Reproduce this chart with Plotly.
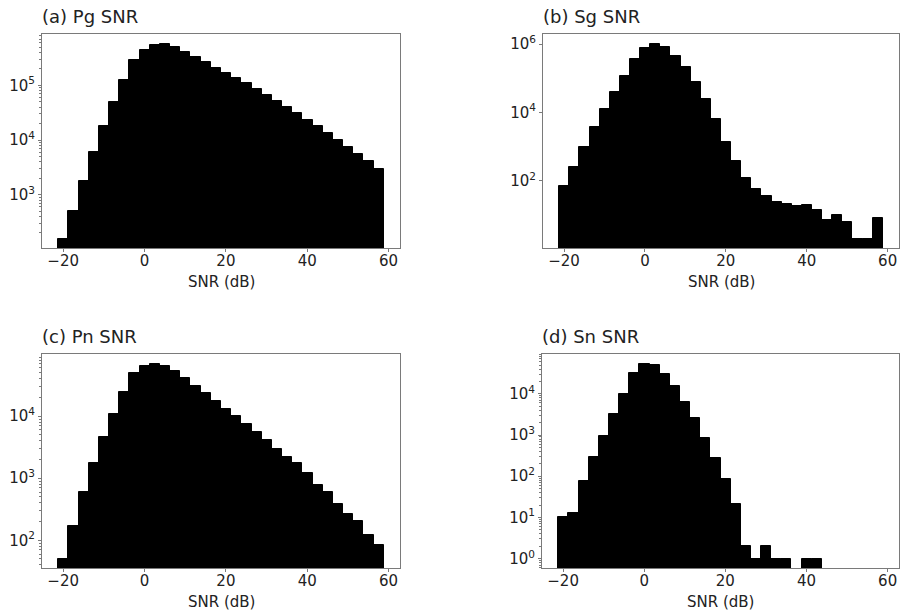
import plotly.graph_objects as go

# Histogram bins shared by all four panels (SNR in dB)
bin_start = -21.2
bin_width = 2.5
n_bins = 32

# Counts per bin for each phase (None = empty bin)
pg_counts = [157, 500, 1750, 6000, 17800, 48900, 125000, 290000, 449000, 540000,
             562000, 495000, 408000, 330000, 267000, 211000, 171000, 138000, 109000, 84600,
             67500, 52500, 40200, 30800, 23600, 18300, 13200, 10100, 7450, 5470,
             4070, 2950]
sg_counts = [70, 258, 973, 3670, 12700, 39000, 118000, 371000, 746000, 978000,
             798000, 455000, 207000, 76700, 24300, 6440, 1390, 378, 122, 58,
             35, 23, 21, 18, 19, 14, 7, 10, 6, 2,
             2, 8]
pn_counts = [50, 171, 605, 1740, 4570, 10900, 24200, 50200, 64400, 69400,
             63600, 52700, 40600, 30500, 23300, 17500, 13300, 10000, 7430, 5510,
             4090, 3000, 2230, 1740, 1230, 775, 605, 382, 270, 203,
             122, 83]
sn_counts = [10, 13, 75, 287, 968, 3200, 9800, 31200, 52700, 49000,
             30700, 15100, 6500, 2600, 850, 277, 85, 21, 2, 1,
             2, 1, 1, None, 1, 1, None, None, None, None,
             None, None]

titles = ["(a) Pg SNR", "(b) Sg SNR", "(c) Pn SNR", "(d) Sn SNR"]
xlabel = "SNR (dB)"
x_ticks = [-20, 0, 20, 40, 60]
y_major_exps = [[3, 4, 5], [2, 4, 6], [2, 3, 4], [0, 1, 2, 3, 4]]

centers = [bin_start + bin_width * (i + 0.5) for i in range(n_bins)]
all_counts = [pg_counts, sg_counts, pn_counts, sn_counts]

W, H = 902, 614
# panel boxes in pixels: (left, right, top, bottom)
boxes = [(42, 400, 34, 248), (543, 899, 34, 248),
         (42, 400, 354, 568), (542, 899, 354, 568)]
# log10 y-ranges
y_ranges = [[2.026, 5.938], [0.024, 6.293], [1.553, 5.003], [-0.227, 4.966]]
show_minor = [True, False, True, True]

FONT = "DejaVu Sans"
TXT = "#222222"
FRAME = "#7a7a7a"
TICK_SIZE = 15
TITLE_SIZE = 18

fig = go.Figure()
layout = dict(
    width=W, height=H,
    margin=dict(l=0, r=0, t=0, b=0),
    paper_bgcolor="white", plot_bgcolor="white",
    showlegend=False, bargap=0,
    font=dict(family=FONT, size=TICK_SIZE, color=TXT),
)
annotations = []

for k in range(4):
    sfx = "" if k == 0 else str(k + 1)
    xa, ya = "x" + sfx, "y" + sfx
    fig.add_trace(go.Bar(
        x=centers, y=all_counts[k], width=bin_width,
        marker=dict(color="black", line=dict(color="black", width=1)),
        xaxis=xa, yaxis=ya, hoverinfo="x+y",
    ))
    l, r, t, b = boxes[k]
    exps = y_major_exps[k]
    minor_vals = []
    if show_minor[k]:
        lo, hi = y_ranges[k]
        for e in range(int(lo) - 1, int(hi) + 2):
            for m in range(2, 10):
                minor_vals.append(m * 10 ** e)
    layout["xaxis" + sfx] = dict(
        domain=[l / W, r / W], anchor=ya, range=[-25.2, 62.8],
        tickvals=x_ticks, ticktext=[("\u2212" + str(-v)) if v < 0 else str(v) for v in x_ticks],
        ticks="outside", ticklen=3, tickcolor=FRAME, tickwidth=1,
        ticklabelstandoff=-4,
        showline=True, linecolor=FRAME, linewidth=1, mirror=True,
        showgrid=False, zeroline=False, tickfont=dict(size=TICK_SIZE, color=TXT),
    )
    layout["yaxis" + sfx] = dict(
        domain=[1 - b / H, 1 - t / H], anchor=xa, type="log", range=y_ranges[k],
        tickvals=[10 ** e for e in exps],
        ticktext=["10<sup>%d</sup>" % e for e in exps],
        ticks="outside", ticklen=3, tickcolor=FRAME, tickwidth=1,
        showline=True, linecolor=FRAME, linewidth=1, mirror=True,
        showgrid=False, zeroline=False, tickfont=dict(size=TICK_SIZE, color=TXT),
        minor=dict(tickvals=minor_vals, ticks="outside" if minor_vals else "",
                   ticklen=2, tickcolor=FRAME, showgrid=False),
    )
    annotations.append(dict(
        text=titles[k], xref=xa + " domain", yref=ya + " domain",
        x=0, y=1, xanchor="left", yanchor="bottom", yshift=5, xshift=-2,
        showarrow=False, font=dict(size=TITLE_SIZE, color=TXT, family=FONT),
    ))
    annotations.append(dict(
        text=xlabel, xref=xa + " domain", yref=ya + " domain",
        x=0.5, y=0, xanchor="center", yanchor="top", yshift=-23, showarrow=False,
        font=dict(size=TICK_SIZE, color=TXT, family=FONT),
    ))

layout["annotations"] = annotations
fig.update_layout(**layout)
fig.write_html("out.html")
